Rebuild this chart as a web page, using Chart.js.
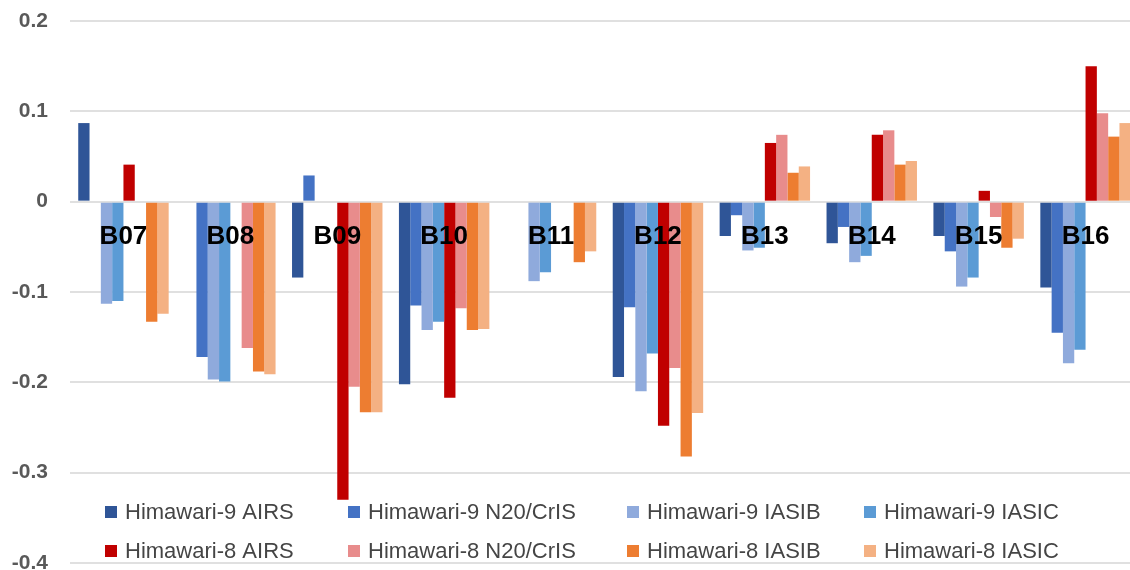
<!DOCTYPE html>
<html>
<head>
<meta charset="utf-8">
<script src="https://cdn.jsdelivr.net/npm/chart.js@4.4.1/dist/chart.umd.min.js"></script>
<style>
  html, body { margin: 0; padding: 0; background: #fff; overflow: hidden; }
  #wrap { width: 1140px; height: 570px; }
</style>
</head>
<body>
<div id="wrap"><canvas id="biasChart" width="1140" height="570"></canvas></div>
<script>
// Bands on the x axis
const categories = ['B07', 'B08', 'B09', 'B10', 'B11', 'B12', 'B13', 'B14', 'B15', 'B16'];

// Y axis ticks
const yTicks = [0.2, 0.1, 0, -0.1, -0.2, -0.3, -0.4];

// Series (null = no bar)
const h9Airs  = [0.087, null, -0.084, -0.202, null, -0.194, -0.038, -0.046, -0.038, -0.095];
const h9N20   = [null, -0.172, 0.029, -0.115, null, -0.117, -0.015, -0.028, -0.055, -0.145];
const h9IasiB = [-0.113, -0.197, null, -0.142, -0.088, -0.210, -0.054, -0.067, -0.094, -0.179];
const h9IasiC = [-0.110, -0.199, null, -0.133, -0.078, -0.168, -0.051, -0.060, -0.084, -0.164];
const h8Airs  = [0.041, null, -0.330, -0.217, null, -0.248, 0.065, 0.074, 0.012, 0.150];
const h8N20   = [null, -0.162, -0.205, -0.118, null, -0.184, 0.074, 0.079, -0.017, 0.098];
const h8IasiB = [-0.133, -0.188, -0.233, -0.142, -0.067, -0.282, 0.032, 0.041, -0.051, 0.072];
const h8IasiC = [-0.124, -0.191, -0.233, -0.141, -0.055, -0.234, 0.039, 0.045, -0.041, 0.087];

const seriesLabels = [
  'Himawari-9 AIRS', 'Himawari-9 N20/CrIS', 'Himawari-9 IASIB', 'Himawari-9 IASIC',
  'Himawari-8 AIRS', 'Himawari-8 N20/CrIS', 'Himawari-8 IASIB', 'Himawari-8 IASIC'
];
const seriesData = [h9Airs, h9N20, h9IasiB, h9IasiC, h8Airs, h8N20, h8IasiB, h8IasiC];
const seriesColors = [
  '#2f5597', '#4472c4', '#8faadc', '#5b9bd5',
  '#c00000', '#e88c8c', '#ed7d31', '#f4b183'
];

const FONT = '"Liberation Sans", Arial, sans-serif';

// band names drawn just under the zero line, like the original
const bandLabels = {
  id: 'bandLabels',
  afterDatasetsDraw(chart) {
    const ctx = chart.ctx;
    const x = chart.scales.x;
    const y0 = chart.scales.y.getPixelForValue(0);
    ctx.save();
    ctx.font = 'bold 26px ' + FONT;
    ctx.textAlign = 'center';
    ctx.textBaseline = 'middle';
    ctx.fillStyle = '#000';
    categories.forEach((c, i) => {
      ctx.fillText(c, x.getPixelForValue(i), y0 + 35);
    });
    ctx.restore();
  }
};

// legend sits inside the plot, two rows of four
const insideLegend = {
  id: 'insideLegend',
  afterDraw(chart) {
    const ctx = chart.ctx;
    const colX = [105, 348, 627, 864];
    const rowY = [512, 551];
    ctx.save();
    ctx.font = '22px ' + FONT;
    ctx.textBaseline = 'middle';
    ctx.textAlign = 'left';
    chart.data.datasets.forEach((ds, i) => {
      const cx = colX[i % 4];
      const cy = rowY[Math.floor(i / 4)];
      ctx.fillStyle = ds.backgroundColor;
      ctx.fillRect(cx, cy - 6, 12, 12);
      ctx.fillStyle = '#454545';
      ctx.fillText(ds.label, cx + 20, cy + 1);
    });
    ctx.restore();
  }
};

const datasets = seriesLabels.map((label, i) => ({
  label: label,
  data: seriesData[i],
  backgroundColor: seriesColors[i],
  borderWidth: 0,
  barPercentage: 1.0,
  categoryPercentage: 0.846
}));

new Chart(document.getElementById('biasChart'), {
  type: 'bar',
  data: { labels: categories, datasets: datasets },
  options: {
    responsive: false,
    animation: false,
    layout: { padding: { top: 21, right: 1, bottom: 7, left: 0 } },
    plugins: {
      legend: { display: false },
      tooltip: { enabled: false }
    },
    scales: {
      x: {
        display: false
      },
      y: {
        min: -0.4,
        max: 0.2,
        afterBuildTicks: (scale) => {
          scale.ticks = yTicks.map(v => ({ value: v }));
        },
        afterFit: (scale) => {
          scale.width = 70;
          // labels may hang past the plot edges, as in the original
          scale.paddingTop = 0;
          scale.paddingBottom = 0;
        },
        border: { display: false },
        grid: { color: '#e0e0e0', lineWidth: 2, drawTicks: false },
        ticks: {
          padding: 22,
          color: '#595959',
          font: { family: FONT, size: 21, weight: 'bold' },
          callback: (v) => String(Number(v.toFixed(1)))
        }
      }
    }
  },
  plugins: [bandLabels, insideLegend]
});
</script>
</body>
</html>
